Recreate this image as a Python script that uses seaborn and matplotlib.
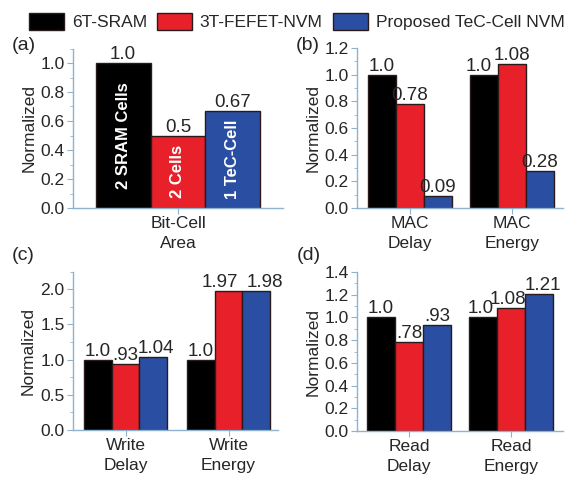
import pandas as pd
import matplotlib
matplotlib.use("Agg")
import matplotlib.pyplot as plt
from matplotlib.ticker import MultipleLocator
import seaborn as sns

# data
designs = ["6T-SRAM", "3T-FEFET-NVM", "Proposed TeC-Cell NVM"]
colors = ["#000000", "#e8202a", "#2a4ea2"]

area_cats = ["Bit-Cell\nArea"]
area_vals = [[1.0, 0.5, 0.67]]
area_text = [["1.0", "0.5", "0.67"]]
area_inside = ["2 SRAM Cells", "2 Cells", "1 TeC-Cell"]

mac_cats = ["MAC\nDelay", "MAC\nEnergy"]
mac_vals = [[1.0, 0.78, 0.09], [1.0, 1.08, 0.28]]
mac_text = [["1.0", "0.78", "0.09"], ["1.0", "1.08", "0.28"]]

write_cats = ["Write\nDelay", "Write\nEnergy"]
write_vals = [[1.0, 0.93, 1.04], [1.0, 1.97, 1.98]]
write_text = [["1.0", ".93", "1.04"], ["1.0", "1.97", "1.98"]]

read_cats = ["Read\nDelay", "Read\nEnergy"]
read_vals = [[1.0, 0.78, 0.93], [1.0, 1.08, 1.21]]
read_text = [["1.0", ".78", ".93"], ["1.0", "1.08", "1.21"]]

sns.set_style("white")
plt.rcParams["font.family"] = ["Liberation Sans", "DejaVu Sans"]

spine_col = "#8fb3cf"
edge_col = "#2a1a1a"
W, H = 572, 478
fig = plt.figure(figsize=(W / 100, H / 100), dpi=100)


def make_df(cats, vals):
    rows = []
    for c, vs in zip(cats, vals):
        for d, v in zip(designs, vs):
            rows.append({"cat": c, "design": d, "value": v})
    return pd.DataFrame(rows)


def panel(rect, cats, vals, texts, ylim, major, xlim, width, tag, tagpos,
          nudge=None):
    l, t, r, b = rect
    ax = fig.add_axes([l / W, 1 - b / H, (r - l) / W, (b - t) / H])
    df = make_df(cats, vals)
    sns.barplot(data=df, x="cat", y="value", hue="design", hue_order=designs,
                palette=colors, saturation=1, width=width, errorbar=None,
                legend=False, edgecolor=edge_col, linewidth=1.0, ax=ax)
    # value labels on top of each bar (one container per design)
    nudge = nudge or {}
    for j, cont in enumerate(ax.containers):
        labs = [texts[i][j] for i in range(len(cats))]
        anns = ax.bar_label(cont, labels=labs, padding=0, fontsize=13.5)
        for i, a in enumerate(anns):
            if (i, j) in nudge:
                x0, y0 = a.xyann
                a.xyann = (x0 + nudge[(i, j)], y0)
    ax.set_ylim(*ylim)
    ax.set_xlim(*xlim)
    ax.yaxis.set_major_locator(MultipleLocator(major))
    ax.yaxis.set_minor_locator(MultipleLocator(major / 2))
    ax.set_xlabel("")
    ax.set_ylabel("Normalized", fontsize=12.5, labelpad=3)
    for s in ["top", "right"]:
        ax.spines[s].set_visible(False)
    for s in ["left", "bottom"]:
        ax.spines[s].set_color(spine_col)
        ax.spines[s].set_linewidth(1.0)
    ax.tick_params(axis="y", which="major", direction="out", length=4,
                   color=spine_col, labelsize=12.5, left=True, pad=2)
    ax.tick_params(axis="y", which="minor", direction="out", length=2,
                   color=spine_col, left=True)
    ax.tick_params(axis="x", direction="out", length=4, color=spine_col,
                   labelsize=12.5, bottom=True, pad=2)
    for lab in ax.get_xticklabels():
        lab.set_linespacing(1.35)
    fig.text(tagpos[0] / W, 1 - tagpos[1] / H, tag, fontsize=14,
             ha="left", va="center")
    return ax


ax_a = panel((73, 48.5, 283, 208), area_cats, area_vals, area_text,
             (0, 1.1), 0.2, (-0.51, 0.51), 0.8, "(a)", (12, 45))
for cont, txt in zip(ax_a.containers, area_inside):
    p = cont.patches[0]
    ax_a.text(p.get_x() + p.get_width() / 2, p.get_height() / 2, txt,
              rotation=90, ha="center", va="center", color="white",
              fontsize=12, fontweight="bold")

panel((357, 48, 563, 208), mac_cats, mac_vals, mac_text,
      (0, 1.2), 0.2, (-0.52, 1.5), 0.82, "(b)", (296, 45),
      nudge={(1, 0): -4})
panel((73, 271.5, 278, 430), write_cats, write_vals, write_text,
      (0, 2.25), 0.5, (-0.51, 1.48), 0.81, "(c)", (12, 255),
      nudge={(0, 2): 2, (1, 1): -6, (1, 2): 6})
panel((357, 272, 563, 431), read_cats, read_vals, read_text,
      (0, 1.4), 0.2, (-0.51, 1.51), 0.82, "(d)", (297, 255),
      nudge={(1, 0): -2, (1, 1): -2, (1, 2): 3})

handles = [plt.Rectangle((0, 0), 1, 1, facecolor=c, edgecolor=edge_col,
                         linewidth=1.0) for c in colors]
fig.legend(handles, designs, loc="upper left", bbox_to_anchor=(17 / W, 1 - 1 / H),
           ncol=3, frameon=False, fontsize=12.5, handlelength=2.0,
           handleheight=1.1, handletextpad=0.45, columnspacing=0.6,
           borderpad=0.2)

fig.savefig("out.png", dpi=100)
